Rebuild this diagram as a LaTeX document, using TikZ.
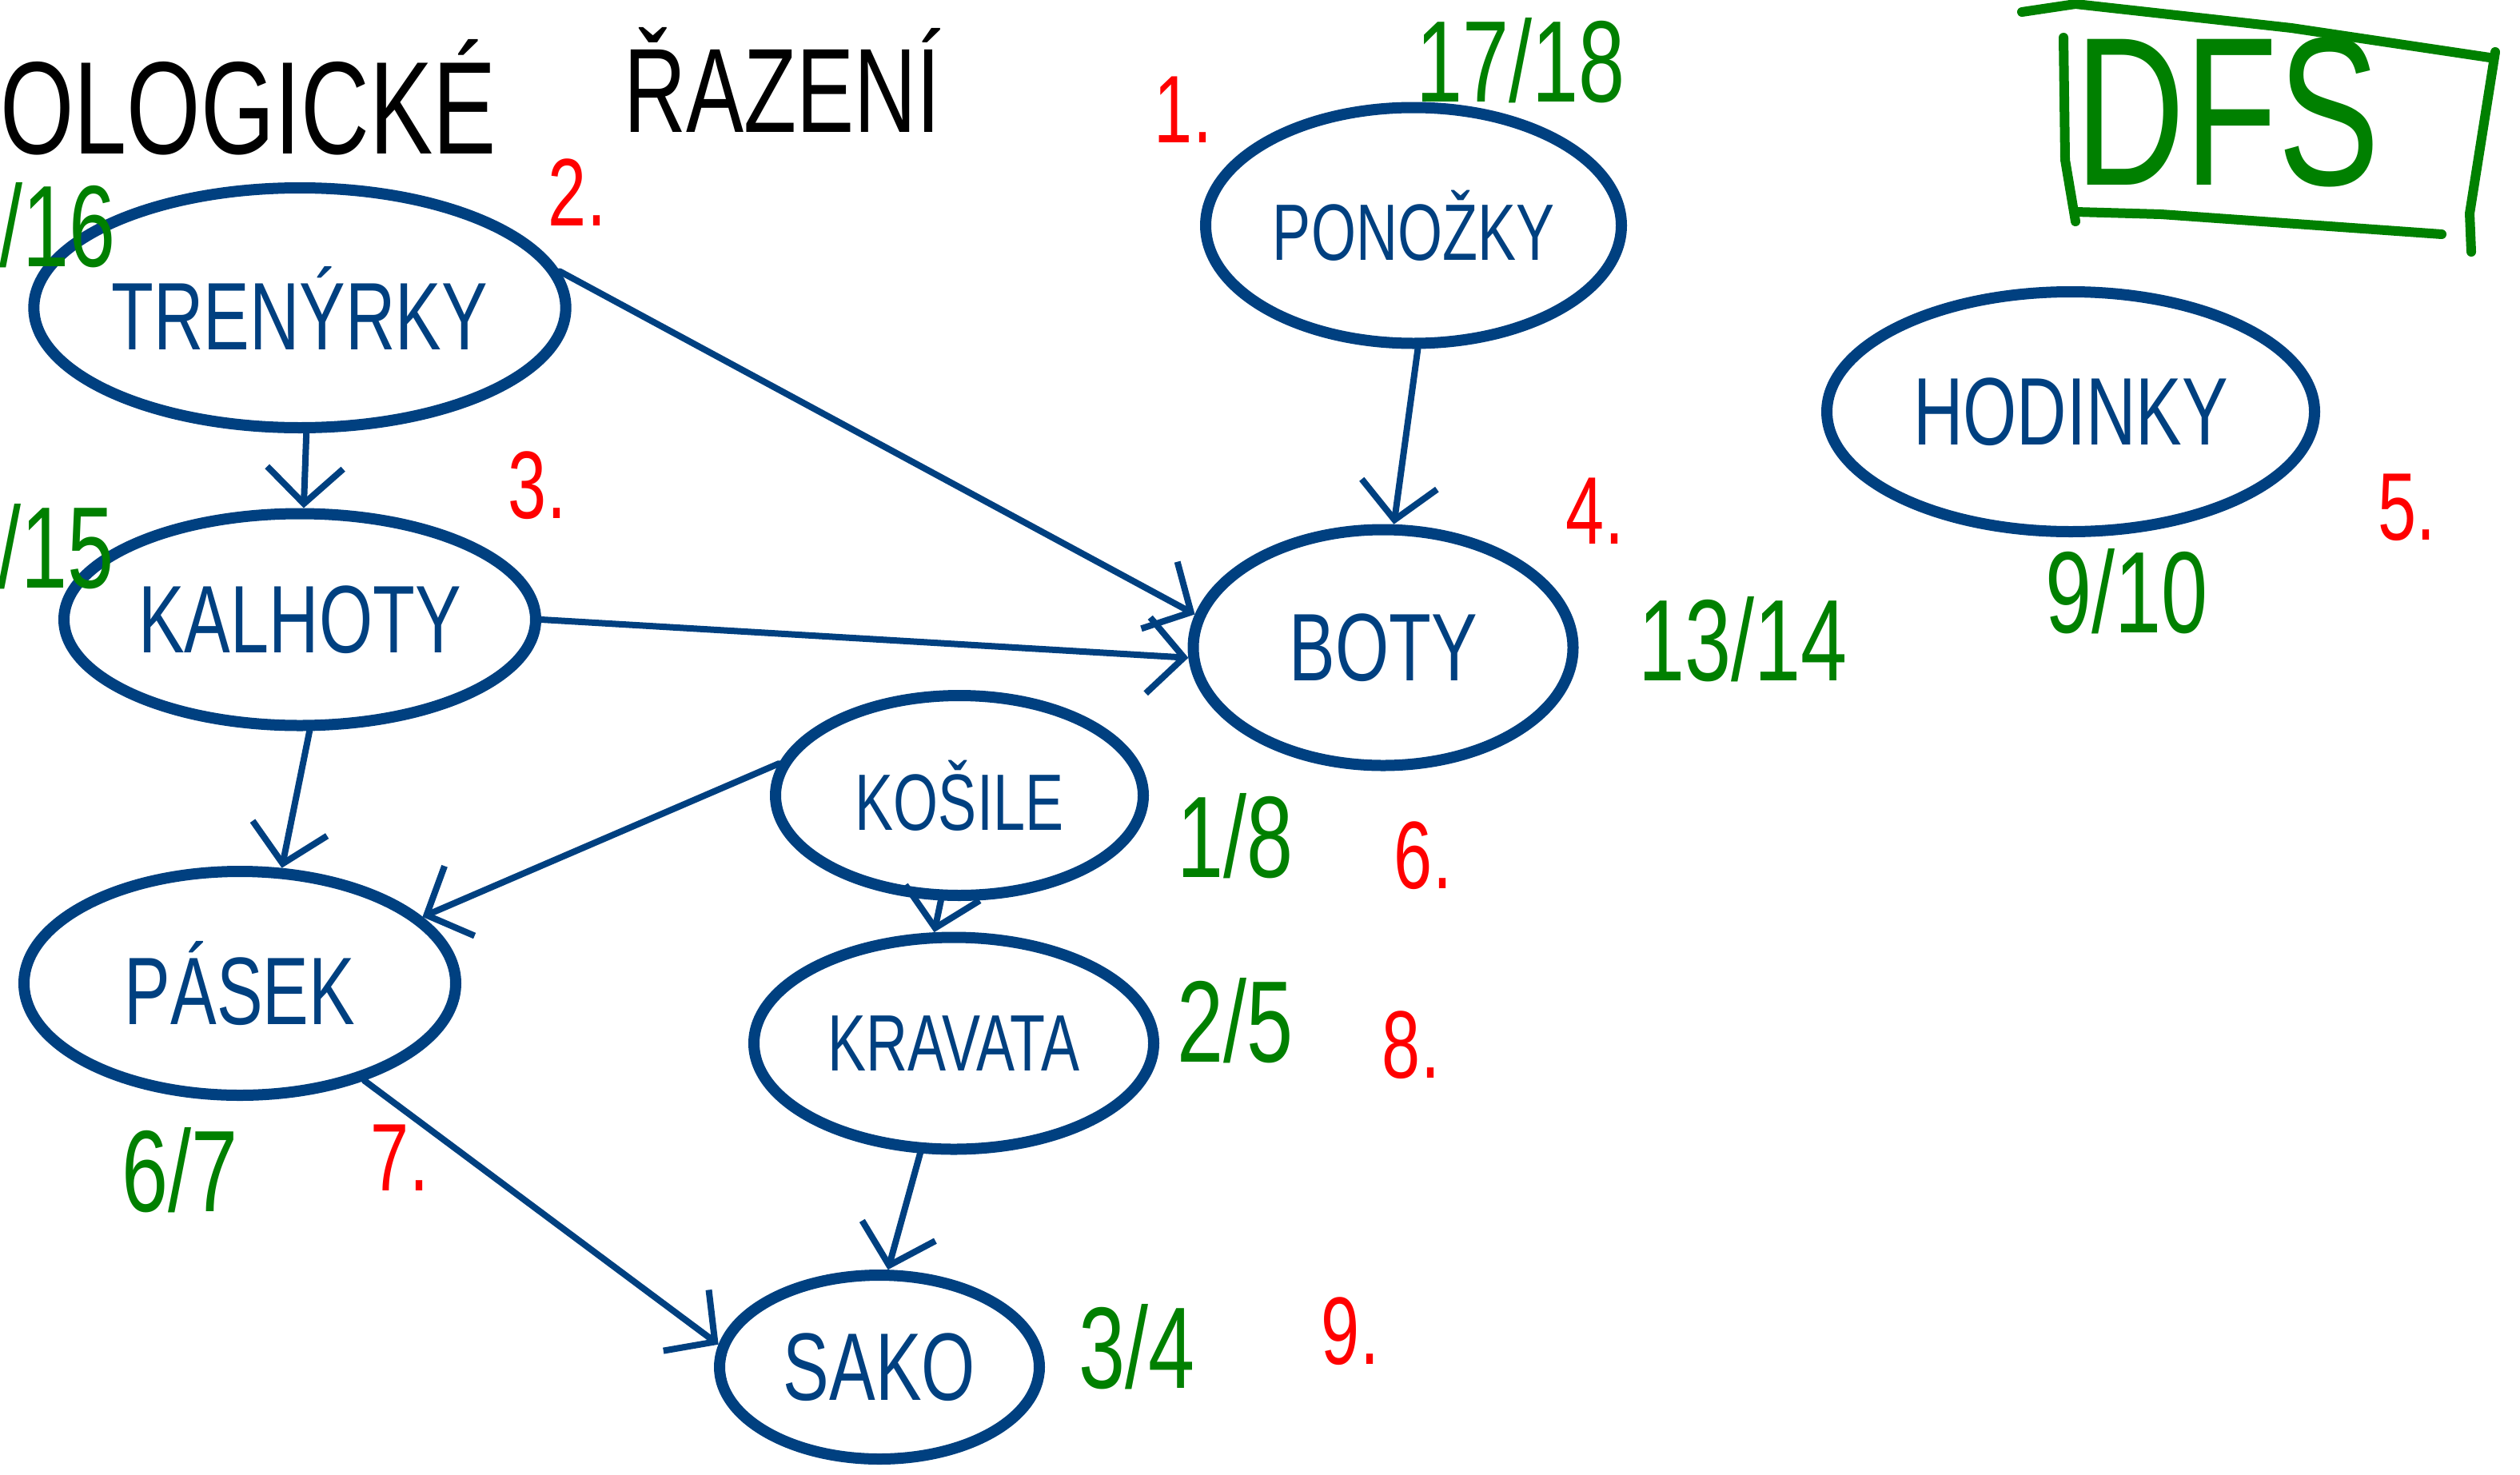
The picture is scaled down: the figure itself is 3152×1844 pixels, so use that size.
\documentclass[tikz,border=0pt]{standalone}
\usepackage{fontspec}
\setmainfont{Liberation Sans}
\newfontfamily\hand{Liberation Sans}[FakeStretch=0.72]
\usetikzlibrary{shapes.geometric,arrows.meta}
\definecolor{inkblue}{RGB}{0,64,128}
\definecolor{inkgreen}{RGB}{0,128,0}
\definecolor{inkred}{RGB}{255,0,0}
\tikzset{
  vertex/.style={ellipse, draw=inkblue, line width=14pt, inner sep=0pt, text=inkblue},
  edge/.style={draw=inkblue, line width=8pt, line cap=round,
    -{Straight Barb[length=45pt,width=95pt,line width=8pt]}},
  timelbl/.style={text=inkgreen, font=\hand\fontsize{145}{150}\selectfont, inner sep=0pt},
  orderlbl/.style={text=inkred, font=\hand\fontsize{120}{125}\selectfont, inner sep=0pt},
  bigtxt/.style={font=\hand\fontsize{120}{130}\selectfont},
  midtxt/.style={font=\hand\fontsize{100}{110}\selectfont},
}
\begin{document}
\begin{tikzpicture}[x=1pt,y=-1pt]
\useasboundingbox (0,0) rectangle (3152,1844);

% title
\node[anchor=west, inner sep=0pt, font=\hand\fontsize{165}{170}\selectfont] (title1) at (0,122) {OLOGICKÉ};
\node[anchor=west, inner sep=0pt, font=\hand\fontsize{150}{160}\selectfont] (title2) at (780,100) {ŘAZENÍ};

% DFS box
\draw[inkgreen, line width=12pt, line cap=round, line join=round]
  (2529,15) -- (2596,5) -- (2866,35) -- (3114,72);
\draw[inkgreen, line width=12pt, line cap=round, line join=round]
  (3121,65) -- (3089,267) -- (3091,315);
\draw[inkgreen, line width=12pt, line cap=round, line join=round]
  (2581,47) -- (2583,200) -- (2596,277);
\draw[inkgreen, line width=12pt, line cap=round, line join=round]
  (2596,265) -- (2703,268) -- (3054,293);
\node[text=inkgreen, inner sep=0pt, font=\hand\fontsize{265}{270}\selectfont] (dfs) at (2786,140) {DFS};

% vertices
\node[vertex, minimum width=640pt, minimum height=300pt, bigtxt] (tren) at (375,385) {TRENÝRKY};
\node[vertex, minimum width=590pt, minimum height=265pt, bigtxt] (kal) at (375,775) {KALHOTY};
\node[vertex, minimum width=540pt, minimum height=280pt, bigtxt] (pas) at (300,1230) {PÁSEK};
\node[vertex, minimum width=460pt, minimum height=250pt, midtxt] (kos) at (1200,995) {KOŠILE};
\node[vertex, minimum width=500pt, minimum height=265pt, midtxt] (krav) at (1193,1305) {KRAVATA};
\node[vertex, minimum width=400pt, minimum height=230pt, bigtxt] (sako) at (1100,1710) {SAKO};
\node[vertex, minimum width=520pt, minimum height=295pt, midtxt] (pon) at (1768,282) {PONOŽKY};
\node[vertex, minimum width=475pt, minimum height=295pt, bigtxt] (boty) at (1730,810) {BOTY};
\node[vertex, minimum width=610pt, minimum height=300pt, bigtxt] (hod) at (2590,515) {HODINKY};

% edges
\draw[edge] (tren.-87) -- (kal.88);
\draw[edge] (tren.8) -- (boty.170);
\draw[edge] (kal.east) -- (boty.183);
\draw[edge] (kal.-85) -- (pas.70);
\draw[edge] (pon.-88) -- (boty.85);
\draw[edge] (kos.170) -- (pas.20);
\draw[edge] (kos.-100) -- (krav.100);
\draw[edge] (pas.-38) -- (sako.172);
\draw[edge] (krav.-107) -- (sako.85);

% discovery / finish times
\node[timelbl] (t1) at (72,282) {/16};
\node[timelbl] (t2) at (70,684) {/15};
\node[timelbl] (t3) at (1902,76) {17/18};
\node[timelbl] (t4) at (2180,800) {13/14};
\node[timelbl] (t5) at (2660,740) {9/10};
\node[timelbl] (t6) at (1545,1046) {1/8};
\node[timelbl] (t7) at (1545,1277) {2/5};
\node[timelbl] (t8) at (225,1464) {6/7};
\node[timelbl] (t9) at (1422,1685) {3/4};

% topological order
\node[orderlbl] (o1) at (1480,137) {1.};
\node[orderlbl] (o2) at (722,241) {2.};
\node[orderlbl] (o3) at (672,607) {3.};
\node[orderlbl] (o4) at (1995,639) {4.};
\node[orderlbl] (o5) at (3010,635) {5.};
\node[orderlbl] (o6) at (1780,1070) {6.};
\node[orderlbl] (o7) at (500,1448) {7.};
\node[orderlbl] (o8) at (1765,1307) {8.};
\node[orderlbl] (o9) at (1689,1665) {9.};
\end{tikzpicture}
\end{document}
